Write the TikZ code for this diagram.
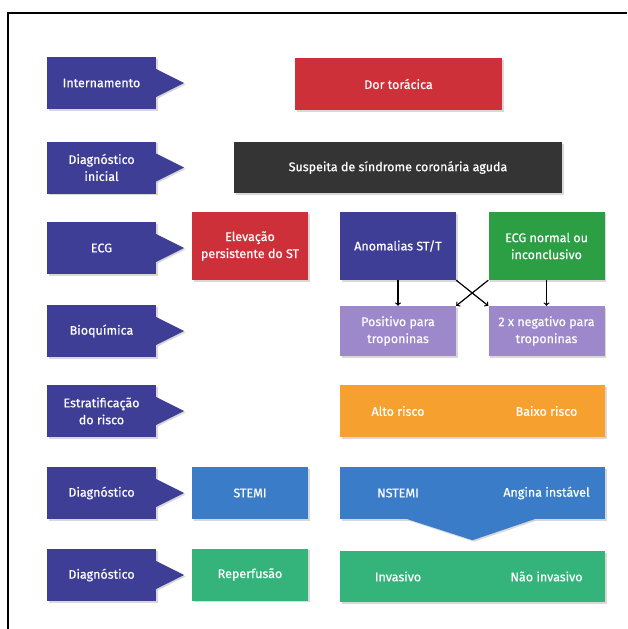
\documentclass[tikz,border=0pt]{standalone}
\usepackage{fontspec}
\setmainfont{Fira Sans}
\newfontfamily\boxfont{Fira Sans}[FakeBold=0.5]
\usetikzlibrary{shadows}
\definecolor{lblblue}{RGB}{62,62,150}
\definecolor{boxred}{RGB}{206,48,58}
\definecolor{boxdark}{RGB}{52,52,52}
\definecolor{boxgreen}{RGB}{44,158,68}
\definecolor{boxlilac}{RGB}{156,136,202}
\definecolor{boxorange}{RGB}{246,160,48}
\definecolor{boxblue}{RGB}{58,124,200}
\definecolor{boxteal}{RGB}{52,180,122}
\begin{document}
\begin{tikzpicture}[x=1pt, y=-1pt,
  box/.style={rectangle, text=white, align=center, inner sep=2pt,
    font=\boxfont\fontsize{12.5}{17}\selectfont,
    drop shadow={shadow xshift=1.5pt, shadow yshift=-1.5pt, opacity=.3}},
  lbl/.style={box, fill=lblblue, minimum width=109pt, minimum height=52pt},
  small/.style={box, minimum width=116pt, minimum height=52pt},
  wide/.style={box, minimum width=265pt, minimum height=52pt},
  pointer/.style={fill=lblblue, drop shadow={shadow xshift=1.5pt, shadow yshift=-1.5pt, opacity=.3}},
  word/.style={text=white, font=\boxfont\fontsize{12.5}{17}\selectfont},
  arrow/.style={->, line width=1.2pt}
]
\useasboundingbox[fill=white] (0,0) rectangle (627,629);
\draw[line width=2.8pt] (8,629) -- (8,13) -- (627,13);

% stage labels on the left
\node[lbl] (l1) at (101.5,83) {Internamento};
\node[lbl] (l2) at (101.5,167.5) {Diagnóstico\\inicial};
\node[lbl] (l3) at (101.5,248) {ECG};
\node[lbl] (l4) at (101.5,331) {Bioquímica};
\node[lbl] (l5) at (101.5,411) {Estratificação\\do risco};
\node[lbl] (l6) at (101.5,493) {Diagnóstico};
\node[lbl] (l7) at (101.5,575) {Diagnóstico};
\fill[pointer] ([yshift=14pt]l1.east) -- ([xshift=28pt]l1.east) -- ([yshift=-14pt]l1.east) -- cycle;
\fill[pointer] ([yshift=14pt]l2.east) -- ([xshift=28pt]l2.east) -- ([yshift=-14pt]l2.east) -- cycle;
\fill[pointer] ([yshift=14pt]l3.east) -- ([xshift=28pt]l3.east) -- ([yshift=-14pt]l3.east) -- cycle;
\fill[pointer] ([yshift=14pt]l4.east) -- ([xshift=28pt]l4.east) -- ([yshift=-14pt]l4.east) -- cycle;
\fill[pointer] ([yshift=14pt]l5.east) -- ([xshift=28pt]l5.east) -- ([yshift=-14pt]l5.east) -- cycle;
\fill[pointer] ([yshift=14pt]l6.east) -- ([xshift=28pt]l6.east) -- ([yshift=-14pt]l6.east) -- cycle;
\fill[pointer] ([yshift=14pt]l7.east) -- ([xshift=28pt]l7.east) -- ([yshift=-14pt]l7.east) -- cycle;

% flow
\node[box, fill=boxred, minimum width=207pt, minimum height=52pt] (dor) at (398.5,84) {Dor torácica};
\node[box, fill=boxdark, minimum width=328pt, minimum height=51pt] (sca) at (398,167.5) {Suspeita de síndrome coronária aguda};
\node[small, fill=boxred, minimum height=68pt] (elev) at (250,246) {Elevação\\persistente do ST};
\node[small, fill=lblblue, minimum height=68pt] (anom) at (398,246) {Anomalias ST/T};
\node[small, fill=boxgreen, minimum height=68pt] (ecgn) at (546.5,246) {ECG normal ou\\inconclusivo};
\node[small, fill=boxlilac, minimum height=50pt] (pos) at (398,331) {Positivo para\\troponinas};
\node[small, fill=boxlilac, minimum height=50pt] (neg) at (546.5,331) {2 x negativo para\\troponinas};
\node[wide, fill=boxorange] (risco) at (472.5,411) {};
\node[word] (alto) at (398,411) {Alto risco};
\node[word] (baixo) at (546.5,411) {Baixo risco};
\node[small, fill=boxblue] (stemi) at (250,493) {STEMI};
\node[wide, fill=boxblue] (nst) at (472.5,493) {};
\node[word] (nstemi) at (398,493) {NSTEMI};
\node[word] (angina) at (546.5,493) {Angina instável};
\fill[boxblue, drop shadow={shadow xshift=1.5pt, shadow yshift=-1.5pt, opacity=.3}]
  ([xshift=-65pt]nst.south) -- ([xshift=62pt]nst.south) -- ([yshift=-21pt]nst.south) -- cycle;
\node[small, fill=boxteal] (reper) at (250,574.5) {Reperfusão};
\node[wide, fill=boxteal, minimum height=51pt] (trat) at (472.5,576.5) {};
\node[word] (inv) at (398,576.5) {Invasivo};
\node[word] (ninv) at (546.5,576.5) {Não invasivo};

\draw[arrow] (anom) -- (pos);
\draw[arrow] (ecgn) -- (neg);
\draw[arrow] (anom.south east) -- (neg.north west);
\draw[arrow] (ecgn.south west) -- (pos.north east);
\end{tikzpicture}
\end{document}
